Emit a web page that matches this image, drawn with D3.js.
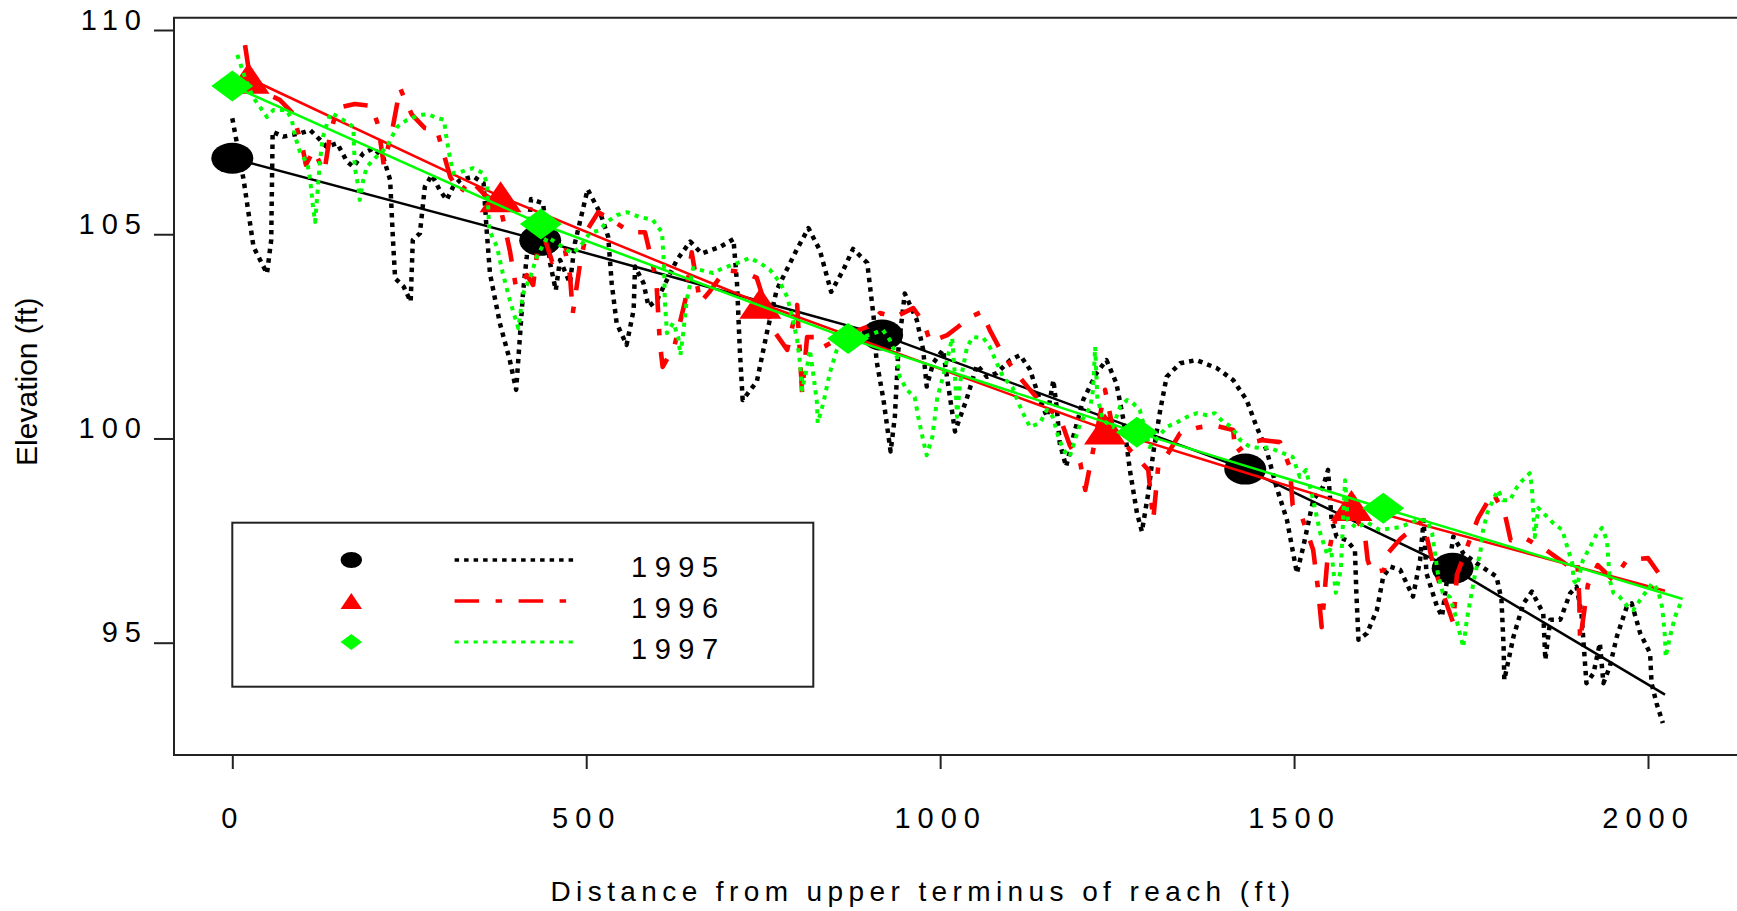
<!DOCTYPE html>
<html>
<head>
<meta charset="utf-8">
<script src="https://d3js.org/d3.v7.min.js"></script>
<style>
    body { margin: 0; background: #fff; }
    svg { display: block; background: #fff; }
    text { font-family: "Liberation Sans", Arial, sans-serif; fill: #000; }
</style>
</head>
<body>
<svg id="chart" width="1737" height="911"></svg>
<script>
// values
var xTicks = [0, 500, 1000, 1500, 2000];
var yTicks = [95, 100, 105, 110];
var years = ["1995", "1996", "1997"];

// thalweg profiles: [distance (ft), elevation (ft)]
var profile1995 = [[0,107.84],[16,106.33],[30,104.69],[49,104.04],[55,104.86],[57,107.51],[72,107.39],[96,107.47],[110,107.55],[124,107.31],[133,107.14],[148,107.23],[162,106.78],[171,106.65],[185,106.98],[199,107.10],[213,106.90],[223,106.33],[227,104.86],[230,103.92],[242,103.72],[252,103.35],[255,104.86],[265,105.02],[272,106.16],[282,106.45],[293,106.08],[303,105.84],[312,106.16],[322,106.33],[341,106.41],[355,106.25],[359,105.18],[364,104.04],[378,102.82],[392,101.92],[401,101.19],[406,102.41],[411,103.63],[416,104.45],[422,105.86],[439,105.76],[449,104.29],[457,103.63],[463,104.37],[477,103.80],[484,104.78],[502,106.10],[520,105.51],[531,104.94],[536,103.80],[543,102.82],[557,102.29],[567,103.15],[569,104.21],[581,103.80],[588,103.23],[600,103.39],[628,104.37],[647,104.82],[663,104.53],[689,104.69],[708,104.88],[713,103.80],[717,102.17],[721,100.94],[741,101.39],[755,102.57],[769,103.63],[797,104.61],[814,105.15],[830,104.61],[846,103.59],[863,104.12],[877,104.64],[897,104.30],[906,102.98],[910,101.92],[920,100.94],[930,99.68],[936,100.53],[941,102.17],[950,103.55],[967,102.90],[976,102.17],[981,101.27],[990,101.84],[1004,102.17],[1021,100.17],[1037,100.94],[1052,101.80],[1066,101.51],[1080,101.60],[1099,101.92],[1113,102.04],[1127,101.68],[1141,100.94],[1151,100.53],[1160,101.43],[1165,100.70],[1169,99.88],[1178,99.31],[1188,100.04],[1202,100.94],[1221,101.60],[1235,101.92],[1249,101.35],[1259,100.45],[1268,99.23],[1278,98.18],[1285,97.72],[1294,98.66],[1301,99.64],[1311,100.70],[1320,101.51],[1339,101.84],[1362,101.92],[1391,101.72],[1414,101.43],[1433,100.94],[1447,100.29],[1461,99.72],[1475,98.82],[1490,98.00],[1504,96.70],[1513,97.35],[1527,98.49],[1541,98.82],[1548,99.23],[1553,98.00],[1560,97.60],[1574,97.51],[1586,97.27],[1588,96.21],[1591,95.07],[1603,95.23],[1617,95.80],[1626,96.62],[1636,96.86],[1650,96.78],[1668,96.13],[1678,97.02],[1683,98.00],[1687,96.70],[1702,95.88],[1709,95.64],[1716,96.53],[1725,97.60],[1739,97.19],[1758,96.94],[1786,96.62],[1793,96.05],[1796,94.90],[1797,94.09],[1810,95.15],[1824,95.96],[1836,96.25],[1852,95.72],[1855,94.58],[1862,95.56],[1876,95.56],[1890,96.21],[1899,96.37],[1906,95.72],[1913,94.01],[1923,94.25],[1932,94.99],[1937,94.01],[1946,94.41],[1956,95.15],[1970,95.88],[1977,95.96],[1989,95.23],[2003,94.74],[2005,94.01],[2012,93.52],[2021,93.03]];

var profile1996 = [[18,109.63],[25,108.82],[43,108.48],[67,108.29],[84,107.99],[98,107.23],[104,106.70],[115,107.06],[130,106.52],[138,107.43],[148,108.09],[173,108.19],[197,108.14],[206,107.67],[214,106.70],[226,107.55],[237,108.58],[244,108.29],[254,107.92],[272,107.60],[289,107.55],[308,106.40],[322,106.01],[336,106.33],[357,105.96],[378,105.72],[392,104.61],[401,103.68],[416,104.00],[425,103.76],[432,104.74],[442,104.86],[452,104.32],[470,104.61],[477,104.00],[481,103.07],[491,104.25],[501,105.10],[517,105.54],[536,105.35],[562,105.05],[583,105.05],[599,103.88],[604,102.34],[608,101.75],[625,102.29],[640,103.39],[649,104.56],[661,103.32],[675,103.61],[696,104.12],[724,104.07],[741,103.93],[764,102.66],[784,102.17],[798,103.27],[805,101.11],[812,102.48],[827,102.48],[835,102.24],[866,102.53],[897,102.73],[915,103.07],[936,102.97],[962,103.19],[977,102.83],[986,102.36],[1010,102.53],[1025,102.73],[1042,102.97],[1059,103.10],[1070,102.66],[1085,102.17],[1106,101.63],[1127,101.19],[1148,100.77],[1169,100.53],[1183,99.84],[1198,99.40],[1205,98.74],[1219,99.96],[1233,101.19],[1243,100.33],[1268,99.72],[1294,99.23],[1301,98.00],[1308,99.30],[1318,99.52],[1339,100.13],[1363,100.26],[1385,100.33],[1414,100.21],[1417,99.64],[1435,99.89],[1455,99.96],[1480,99.91],[1494,99.30],[1498,98.37],[1511,98.08],[1527,97.27],[1534,96.29],[1539,95.38],[1547,97.02],[1558,98.00],[1579,98.37],[1600,97.64],[1604,97.02],[1610,96.71],[1627,96.78],[1633,97.20],[1650,97.54],[1682,98.00],[1696,96.95],[1710,96.22],[1725,95.48],[1730,96.66],[1749,97.56],[1760,98.05],[1781,98.67],[1798,98.13],[1806,97.51],[1823,97.59],[1856,97.27],[1886,96.90],[1900,97.02],[1903,96.05],[1904,95.04],[1915,96.41],[1929,96.90],[1951,96.53],[1970,97.02],[2000,97.07],[2020,96.58]];

var profile1997 = [[7,109.39],[11,109.19],[19,108.78],[29,108.36],[39,108.12],[49,107.87],[58,108.04],[77,108.04],[84,107.80],[89,107.38],[96,106.99],[106,106.74],[110,106.33],[114,105.67],[117,105.30],[121,106.16],[124,106.82],[128,107.38],[134,107.72],[139,107.97],[152,107.85],[171,107.63],[173,106.65],[178,106.16],[180,105.84],[185,106.33],[190,106.65],[199,106.82],[209,106.99],[219,107.14],[223,107.31],[233,107.63],[247,107.80],[265,107.92],[276,107.94],[289,107.85],[299,107.80],[303,107.31],[308,106.82],[312,106.50],[322,106.52],[340,106.62],[354,106.50],[360,106.25],[361,105.84],[363,105.10],[374,104.69],[382,104.05],[392,103.39],[404,102.70],[411,103.56],[421,103.95],[430,104.44],[445,104.93],[459,104.78],[473,104.61],[481,104.54],[491,104.69],[505,105.03],[519,105.10],[529,105.30],[544,105.47],[558,105.54],[576,105.42],[594,105.35],[607,105.05],[610,104.20],[611,103.39],[614,102.58],[623,102.83],[630,102.48],[633,102.04],[637,102.58],[642,103.39],[647,103.81],[651,104.17],[679,104.05],[693,104.17],[713,104.29],[731,104.42],[746,104.29],[760,104.12],[774,103.81],[784,103.46],[792,102.90],[798,102.41],[802,101.85],[805,101.19],[812,101.75],[816,102.17],[820,101.68],[826,100.87],[827,100.38],[835,100.87],[844,101.60],[854,102.17],[863,102.41],[891,102.48],[919,102.66],[929,102.41],[939,101.99],[943,101.50],[953,101.19],[964,101.01],[969,100.53],[976,99.96],[981,99.59],[989,100.04],[996,101.01],[1004,101.50],[1014,102.24],[1017,102.46],[1021,101.50],[1024,100.53],[1028,101.36],[1038,102.24],[1046,102.48],[1061,102.46],[1070,102.24],[1080,101.85],[1089,101.50],[1102,101.26],[1109,100.94],[1117,100.62],[1127,100.28],[1141,100.38],[1151,100.70],[1159,100.53],[1167,100.04],[1174,99.72],[1183,99.55],[1198,100.38],[1212,100.77],[1216,101.19],[1219,102.24],[1222,101.01],[1230,100.45],[1244,100.28],[1254,100.77],[1264,100.94],[1272,100.87],[1282,100.70],[1296,99.79],[1320,100.28],[1335,100.40],[1349,100.53],[1363,100.62],[1377,100.57],[1388,100.62],[1400,100.40],[1412,100.28],[1424,99.96],[1438,99.79],[1452,99.77],[1466,99.77],[1480,99.67],[1498,99.55],[1508,99.06],[1517,99.23],[1527,98.49],[1537,97.68],[1547,97.15],[1552,97.32],[1559,96.22],[1566,96.78],[1572,98.98],[1576,98.00],[1588,97.81],[1603,97.95],[1621,97.76],[1650,97.83],[1674,98.00],[1688,98.00],[1695,97.68],[1703,96.71],[1710,96.22],[1720,96.12],[1727,95.73],[1734,95.24],[1739,94.89],[1744,95.55],[1749,96.05],[1756,96.71],[1763,97.20],[1767,97.76],[1773,98.18],[1781,98.49],[1788,98.74],[1795,98.49],[1805,98.49],[1815,98.81],[1823,98.98],[1833,99.15],[1836,98.81],[1838,98.18],[1840,97.59],[1845,98.30],[1852,98.18],[1866,97.93],[1879,97.76],[1886,97.34],[1893,96.95],[1895,96.53],[1900,96.41],[1908,97.02],[1918,97.34],[1928,97.68],[1935,97.81],[1942,97.51],[1944,97.02],[1946,96.53],[1951,96.22],[1960,96.12],[1972,95.87],[1979,95.80],[1989,96.05],[1999,96.29],[2006,96.46],[2014,96.29],[2020,95.87],[2024,95.14],[2025,94.65],[2031,95.14],[2038,95.63],[2048,96.05]];

// cross-section points (markers), the solid trend line runs through them
var sections1995 = [[0,106.86],[435,104.85],[918,102.53],[1431,99.25],[1724,96.82]];
var sections1996 = [[23,108.82],[379,105.92],[746,103.31],[1233,100.23],[1581,98.36]];
var sections1997 = [[0,108.63],[436,105.25],[870,102.45],[1278,100.15],[1626,98.29]];
// where each trend line stops
var trendEnd1995 = [2024, 93.73];
var trendEnd1996 = [2024, 96.27];
var trendEnd1997 = [2049, 96.07];

// ---- drawing ----
var svg = d3.select("#chart");

var x = d3.scaleLinear().domain([0, 2000]).range([232.3, 1648]);
var y = d3.scaleLinear().domain([95, 110]).range([642.7, 30]);

var frameLeft = 174, frameTop = 17.7, frameBottom = 755;

//plot frame (right side runs off the page in the original)
svg.append("path")
    .attr("d", "M1745," + frameTop + "H" + frameLeft + "V" + frameBottom + "H1745")
    .attr("fill", "none")
    .attr("stroke", "#222")
    .attr("stroke-width", 2);

// x axis
var xAxis = svg.append("g")
    .attr("transform", "translate(0," + frameBottom + ")")
    .call(d3.axisBottom(x).tickValues(xTicks).tickSize(14).tickPadding(38).tickFormat(d3.format("d")));
xAxis.select(".domain").remove();
xAxis.selectAll("line").attr("stroke", "#222").attr("stroke-width", 2);
xAxis.selectAll("text")
    .style("font-size", "29px")
    .style("letter-spacing", "7px")
    .attr("fill", "#000");

// y axis
var yAxis = svg.append("g")
    .attr("transform", "translate(" + frameLeft + ",0)")
    .call(d3.axisLeft(y).tickValues(yTicks).tickSize(20).tickPadding(6).tickFormat(d3.format("d")));
yAxis.select(".domain").remove();
yAxis.selectAll("line").attr("stroke", "#222").attr("stroke-width", 2);
yAxis.selectAll("text")
    .attr("dy", "-1")
    .style("font-size", "29px")
    .style("letter-spacing", "7px")
    .attr("fill", "#000");

// axis titles
svg.append("text")
    .attr("x", 923)
    .attr("y", 901)
    .attr("text-anchor", "middle")
    .style("font-size", "28px")
    .style("letter-spacing", "5.4px")
    .text("Distance from upper terminus of reach (ft)");

svg.append("text")
    .attr("transform", "translate(36.7,381.7) rotate(-90)")
    .attr("text-anchor", "middle")
    .style("font-size", "30px")
    .text("Elevation (ft)");

// series styles
var series = [
    {year: years[0], profile: profile1995, sections: sections1995, end: trendEnd1995,
     color: "#000000", dash: "4.5 5", width: 4.5, shape: "ellipse"},
    {year: years[1], profile: profile1996, sections: sections1996, end: trendEnd1996,
     color: "#ff0000", dash: "24.5 16.5 6.5 16.5", width: 4.6, shape: "triangle"},
    {year: years[2], profile: profile1997, sections: sections1997, end: trendEnd1997,
     color: "#00ff00", dash: "4.2 5.3", width: 4, shape: "diamond"}
];

var line = d3.line()
    .x(function (d) { return x(d[0]); })
    .y(function (d) { return y(d[1]); });

//marker drawing, w/h are the full width and height of the symbol
function drawMarker(g, shape, cx, cy, w, h, color) {
    if (shape === "ellipse") {
        g.append("ellipse")
            .attr("cx", cx).attr("cy", cy)
            .attr("rx", w / 2).attr("ry", h / 2)
            .attr("fill", color);
    } else if (shape === "triangle") {
        g.append("path")
            .attr("d", "M" + cx + "," + (cy - h / 2) + "L" + (cx + w / 2) + "," + (cy + h / 2) +
                "L" + (cx - w / 2) + "," + (cy + h / 2) + "Z")
            .attr("fill", color);
    } else {
        g.append("path")
            .attr("d", "M" + cx + "," + (cy - h / 2) + "L" + (cx + w / 2) + "," + cy +
                "L" + cx + "," + (cy + h / 2) + "L" + (cx - w / 2) + "," + cy + "Z")
            .attr("fill", color);
    }
}

var plot = svg.append("g");

series.forEach(function (s) {
    var g = plot.append("g");

    // measured profile
    g.append("path")
        .datum(s.profile)
        .attr("d", line)
        .attr("fill", "none")
        .attr("stroke", s.color)
        .attr("stroke-width", s.width)
        .attr("stroke-dasharray", s.dash)
        .attr("stroke-linejoin", "round");

    // trend line through the cross sections
    g.append("path")
        .datum(s.sections.concat([s.end]))
        .attr("d", line)
        .attr("fill", "none")
        .attr("stroke", s.color)
        .attr("stroke-width", 2.5);

    s.sections.forEach(function (p) {
        drawMarker(g, s.shape, x(p[0]), y(p[1]), 42, 31, s.color);
    });
});

// legend
var legend = svg.append("g");
legend.append("rect")
    .attr("x", 232.3).attr("y", 522.7)
    .attr("width", 581).attr("height", 164)
    .attr("fill", "#fff")
    .attr("stroke", "#222")
    .attr("stroke-width", 2);

var rowY = [560, 601, 642];
series.forEach(function (s, i) {
    var ry = rowY[i];
    drawMarker(legend, s.shape, 351.3, ry, 21.5, 16, s.color);
    legend.append("line")
        .attr("x1", 454.6).attr("x2", 575.2)
        .attr("y1", ry).attr("y2", ry)
        .attr("stroke", s.color)
        .attr("stroke-width", s.width - 0.9)
        .attr("stroke-dasharray", s.dash);
    legend.append("text")
        .attr("x", 631)
        .attr("y", ry + 16.5)
        .style("font-size", "29px")
        .style("letter-spacing", "7.5px")
        .text(s.year);
});
</script>
</body>
</html>
